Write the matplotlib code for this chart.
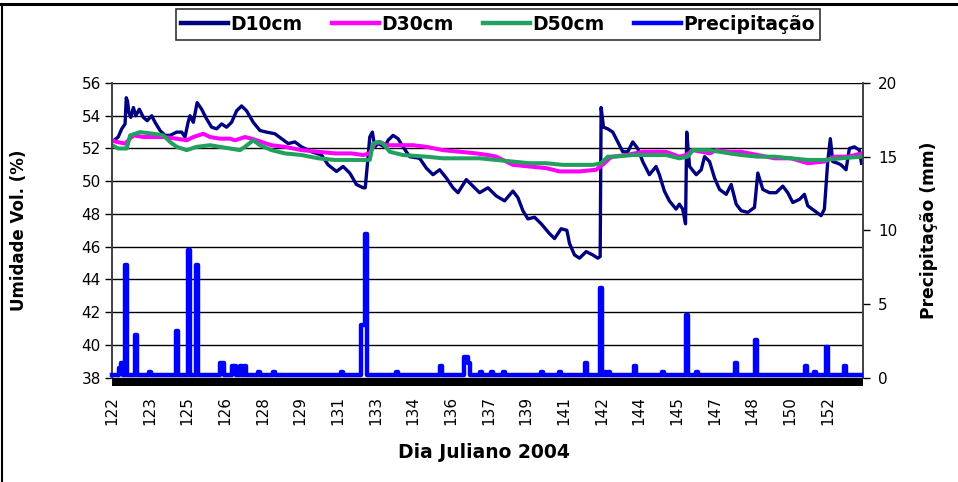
import numpy as np
import matplotlib
matplotlib.use('Agg')
import matplotlib.pyplot as plt
import matplotlib.transforms as mtransforms
from matplotlib.patches import Rectangle
from matplotlib.lines import Line2D

plt.rcParams['font.family'] = ['DejaVu Sans']

# ---------------- data ----------------
x_tick_labels = [122, 123, 125, 126, 128, 129, 131, 133, 134, 136,
                 137, 139, 141, 142, 144, 145, 147, 148, 150, 152]

d10_day = [122.00, 122.26, 122.41, 122.55, 122.60, 122.65, 122.71, 122.79, 122.90, 123.00,
           123.15, 123.32, 123.48, 123.67, 123.81, 124.02, 124.23, 124.44, 124.72, 124.93,
           125.07, 125.20, 125.28, 125.42, 125.58, 125.77, 125.98, 126.19, 126.40, 126.61,
           126.82, 127.03, 127.24, 127.45, 127.66, 127.94, 128.22, 128.50, 128.85, 129.13,
           129.41, 129.69, 129.97, 130.39, 130.81, 131.09, 131.44, 131.72, 132.00, 132.28,
           132.56, 132.65, 132.77, 132.84, 132.95, 133.05, 133.19, 133.47, 133.61, 133.82,
           134.03, 134.24, 134.52, 134.94, 135.22, 135.50, 135.78, 136.06, 136.34, 136.55,
           136.90, 137.18, 137.46, 137.81, 138.16, 138.51, 138.86, 139.07, 139.28, 139.49,
           139.77, 140.05, 140.40, 140.61, 140.89, 141.13, 141.24, 141.45, 141.66, 141.94,
           142.22, 142.43, 142.53, 142.57, 142.67, 142.85, 143.06, 143.27, 143.48, 143.69,
           143.90, 144.11, 144.32, 144.60, 144.88, 145.02, 145.23, 145.44, 145.72, 145.86,
           146.00, 146.12, 146.17, 146.29, 146.57, 146.78, 146.92, 147.13, 147.34, 147.55,
           147.83, 148.04, 148.25, 148.46, 148.74, 149.02, 149.16, 149.37, 149.65, 149.93,
           150.21, 150.42, 150.63, 150.92, 151.12, 151.26, 151.54, 151.82, 151.96, 152.10,
           152.21, 152.31, 152.52, 152.66, 152.87, 153.01, 153.22, 153.43, 153.52]
d10_val = [52.4, 52.7, 53.2, 53.5, 55.1, 54.9, 54.2, 53.9, 54.5, 54.0,
           54.4, 53.9, 53.7, 54.0, 53.6, 53.1, 52.8, 52.8, 53.0, 53.0,
           52.7, 53.6, 54.0, 53.6, 54.8, 54.4, 53.8, 53.3, 53.2, 53.5,
           53.3, 53.6, 54.3, 54.6, 54.3, 53.6, 53.1, 53.0, 52.9, 52.6,
           52.3, 52.4, 52.1, 51.8, 51.6, 51.0, 50.6, 50.9, 50.5, 49.8,
           49.6, 49.6, 51.5, 52.7, 53.0, 52.1, 52.3, 52.1, 52.5, 52.8,
           52.6, 52.1, 51.5, 51.4, 50.8, 50.4, 50.7, 50.2, 49.6, 49.3,
           50.1, 49.7, 49.3, 49.6, 49.1, 48.8, 49.4, 49.0, 48.2, 47.7,
           47.8, 47.4, 46.8, 46.5, 47.1, 47.0, 46.2, 45.5, 45.3, 45.7,
           45.5, 45.3, 45.4, 54.5, 53.3, 53.2, 53.0, 52.4, 51.8, 51.8,
           52.4, 52.0, 51.2, 50.4, 50.9, 50.4, 49.4, 48.8, 48.3, 48.6,
           48.3, 47.4, 53.0, 50.9, 50.4, 50.7, 51.5, 51.2, 50.2, 49.5,
           49.2, 49.8, 48.6, 48.2, 48.1, 48.4, 50.5, 49.5, 49.3, 49.3,
           49.7, 49.3, 48.7, 48.9, 49.2, 48.5, 48.2, 47.9, 48.3, 51.2,
           52.6, 51.2, 51.1, 51.0, 50.7, 52.0, 52.1, 51.9, 51.1]

d30_day = [122.00, 122.20, 122.55, 122.76, 122.90, 123.32, 123.74, 124.16, 124.72, 125.14,
           125.42, 125.84, 126.12, 126.54, 126.96, 127.17, 127.59, 127.87, 128.29, 128.71,
           129.27, 129.97, 130.67, 131.37, 132.07, 132.56, 132.84, 133.05, 133.26, 133.54,
           134.10, 134.66, 135.22, 135.92, 136.62, 137.32, 137.81, 138.16, 138.86, 139.56,
           140.26, 140.82, 141.66, 142.36, 142.71, 142.92, 143.06, 143.62, 144.32, 145.30,
           145.86, 146.15, 146.43, 147.13, 147.41, 147.97, 148.46, 149.16, 149.86, 150.56,
           151.26, 151.96, 152.38, 152.94, 153.52]
d30_val = [52.5, 52.4, 52.3, 52.6, 52.8, 52.7, 52.7, 52.7, 52.6, 52.5,
           52.7, 52.9, 52.7, 52.6, 52.6, 52.5, 52.7, 52.6, 52.4, 52.2,
           52.1, 51.9, 51.8, 51.7, 51.7, 51.6, 51.7, 52.3, 52.4, 52.2,
           52.2, 52.2, 52.1, 51.9, 51.8, 51.7, 51.6, 51.5, 51.0, 50.9,
           50.8, 50.6, 50.6, 50.7, 51.1, 51.4, 51.5, 51.6, 51.8, 51.8,
           51.5, 51.6, 51.9, 51.7, 51.9, 51.8, 51.8, 51.6, 51.4, 51.4,
           51.1, 51.2, 51.5, 51.5, 51.7]

d50_day = [122.00, 122.26, 122.62, 122.76, 123.18, 123.74, 124.16, 124.44, 124.72, 125.14,
           125.56, 126.12, 126.54, 126.96, 127.38, 127.59, 127.94, 128.22, 128.71, 129.27,
           129.97, 130.67, 131.37, 132.56, 132.84, 132.98, 133.19, 133.40, 133.68, 134.24,
           135.22, 135.92, 137.46, 138.16, 138.86, 139.56, 140.26, 140.96, 142.22, 142.57,
           142.85, 143.13, 143.90, 145.30, 145.86, 146.21, 146.43, 147.13, 147.97, 148.46,
           149.16, 149.86, 150.56, 151.26, 151.96, 152.66, 153.52]
d50_val = [52.2, 52.0, 52.0, 52.8, 53.0, 52.9, 52.8, 52.4, 52.1, 51.9,
           52.1, 52.2, 52.1, 52.0, 51.9, 52.1, 52.5, 52.2, 51.9, 51.7,
           51.6, 51.4, 51.3, 51.3, 51.3, 52.3, 52.4, 52.3, 51.8, 51.6,
           51.5, 51.4, 51.4, 51.3, 51.2, 51.1, 51.1, 51.0, 51.0, 51.1,
           51.5, 51.5, 51.6, 51.6, 51.4, 51.5, 51.9, 51.9, 51.7, 51.6,
           51.5, 51.5, 51.4, 51.3, 51.3, 51.4, 51.5]

# precipitation events (day, mm); all other 2-hour readings are 0
rain_day = [122.30, 122.45, 122.60, 123.00, 123.60, 124.71, 125.25, 125.59, 126.60, 126.70,
            127.05, 127.20, 127.40, 127.55, 128.20, 128.85, 131.70, 132.50, 132.58, 132.67,
            134.00, 135.85, 136.80, 136.87, 136.95, 137.03, 137.46, 138.00, 138.50, 140.05,
            140.82, 141.95, 142.57, 142.75, 142.90, 144.04, 145.13, 146.13, 146.58, 148.22,
            149.10, 151.19, 151.62, 152.10, 152.87]
rain_mm = [0.5, 0.8, 7.5, 2.7, 0.2, 3.0, 8.5, 7.5, 0.8, 0.8,
           0.6, 0.6, 0.6, 0.6, 0.2, 0.2, 0.2, 3.4, 3.4, 9.6,
           0.2, 0.6, 0.8, 1.2, 1.2, 0.8, 0.2, 0.2, 0.2, 0.2,
           0.2, 0.8, 5.9, 0.2, 0.2, 0.6, 0.2, 4.1, 0.2, 0.8,
           2.4, 0.6, 0.2, 1.9, 0.6]

# ---------------- figure ----------------
W, H = 958, 482
fig = plt.figure(figsize=(W / 100, H / 100), dpi=100)
fig.patch.set_facecolor('white')

L, R, T, B = 112, 863, 83, 377.7
ax = fig.add_axes([L / W, 1 - B / H, (R - L) / W, (B - T) / H])
ax2 = ax.twinx()

n_steps = 379
t_grid = 122 + np.arange(n_steps) / 12.0
rain = np.zeros(n_steps)
for d, v in zip(rain_day, rain_mm):
    rain[int(round((d - 122) * 12))] = v

ax.plot(d10_day, d10_val, color='#000080', lw=2.4, zorder=3)
ax.plot(d30_day, d30_val, color='#FF00FF', lw=2.9, zorder=4)
ax.plot(d50_day, d50_val, color='#22A05E', lw=2.9, zorder=5)
rain_tr = mtransforms.offset_copy(ax2.transData, fig=fig, x=0, y=2.6, units='dots')
ax2.plot(t_grid, rain, color='#0000FF', lw=3.2, drawstyle='steps-mid',
         transform=rain_tr, clip_on=False, zorder=3)

ax.set_xlim(122, 122 + n_steps / 12.0)
ax.set_ylim(38, 56)
ax.set_yticks(np.arange(38, 57, 2))
ax2.set_ylim(0, 20)
ax2.set_yticks([0, 5, 10, 15, 20])

tick_pos = 122 + np.arange(len(x_tick_labels)) * 19 / 12.0
ax.set_xticks(tick_pos)
ax.set_xticklabels([str(v) for v in x_tick_labels], rotation=90)

ax.grid(axis='y', color='black', lw=1.0)
ax.set_axisbelow(True)

ax.tick_params(axis='y', direction='out', length=5, width=1, labelsize=11, pad=3)
ax.tick_params(axis='x', length=0, labelsize=11, pad=13)
ax2.tick_params(axis='y', direction='out', length=5, width=1, labelsize=11, pad=6)

for a in (ax, ax2):
    for s in ('left', 'right'):
        a.spines[s].set_color('#404040')
        a.spines[s].set_linewidth(1.2)
    a.spines['top'].set_visible(False)
    a.spines['bottom'].set_visible(False)

ax.set_ylabel('Umidade Vol. (%)', fontsize=12, fontweight='bold')
ax.yaxis.set_label_coords((28 - L) / (R - L), 0.5)
ax2.set_ylabel('Precipitação (mm)', fontsize=12.3, fontweight='bold', rotation=90)
ax2.yaxis.set_label_coords((920 - L) / (R - L), 0.5)
fig.text(484 / W, 1 - 452 / H, 'Dia Juliano 2004', ha='center', va='center',
         fontsize=13.5, fontweight='bold')

# dense tick-mark band under the category axis
fig.add_artist(Rectangle((L / W, 1 - 385.5 / H), (R - L) / W, 8 / H,
                         transform=fig.transFigure, facecolor='black',
                         edgecolor='none', zorder=10))

# chart border (top and left)
fig.add_artist(Line2D([0, 1], [1 - 3.5 / H] * 2, transform=fig.transFigure,
                      color='black', lw=2.2, zorder=10))
fig.add_artist(Line2D([2 / W] * 2, [0, 1 - 3.5 / H], transform=fig.transFigure,
                      color='black', lw=1.5, zorder=10))

handles = [Line2D([], [], color='#000080', lw=3.2),
           Line2D([], [], color='#FF00FF', lw=3.2),
           Line2D([], [], color='#22A05E', lw=3.2),
           Line2D([], [], color='#0000FF', lw=3.2)]
leg = fig.legend(handles, ['D10cm', 'D30cm', 'D50cm', 'Precipitação'],
                 loc='center', bbox_to_anchor=(498 / W, 1 - 24.5 / H), ncol=4,
                 frameon=True, fancybox=False, edgecolor='black',
                 prop={'size': 13.5, 'weight': 'bold'}, handlelength=2.5,
                 handletextpad=0.1, columnspacing=1.6, borderpad=0.3,
                 borderaxespad=0)
leg.get_frame().set_linewidth(1.2)

fig.savefig('out.png', dpi=100)
